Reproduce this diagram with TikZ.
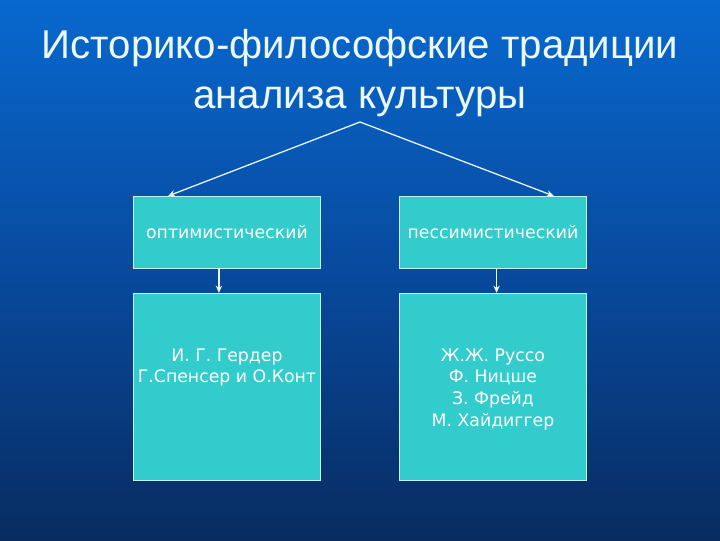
\documentclass[tikz,border=0pt]{standalone}
\usepackage{fontspec}
\setmainfont{Liberation Sans}
\newfontfamily\boxfont{DejaVu Sans}
\usepackage{xcolor}
\usetikzlibrary{arrows.meta, positioning}

\definecolor{slidetop}{RGB}{8,104,206}
\definecolor{slidemid}{RGB}{8,74,158}
\definecolor{slidebot}{RGB}{8,44,96}
\definecolor{panel}{RGB}{51,204,204}
\definecolor{panelline}{RGB}{200,240,245}

\begin{document}
\begin{tikzpicture}[
    x=0.025cm, y=-0.025cm,
    panelbox/.style={draw=panelline, line width=0.6pt, fill=panel,
        minimum width=4.675cm, inner sep=0pt, anchor=north west},
    flow/.style={-{Stealth[length=1.8mm, width=1.6mm]}, line width=0.9pt, draw=white!92!cyan},
    label/.style={text=white, font=\boxfont\fontsize{12.3}{15.4}\selectfont, align=center}
]
% slide background
\shade[top color=slidetop, bottom color=slidebot, middle color=slidemid]
    (0,0) rectangle (720,540);
\useasboundingbox (0,0) rectangle (720,540);

\node[text=white!92!cyan, font=\fontsize{28.6}{35.5}\selectfont, align=center] (title)
    at (360,73) {Историко-философские традиции\\анализа культуры};
\coordinate (apex) at (360,122);

% upper row
\node[panelbox, minimum height=1.8cm] (optimist) at (133,196) {};
\node[panelbox, minimum height=1.8cm] (pessimist) at (399,196) {};
\node[label] (optlabel) at (optimist.center) {оптимистический};
\node[label] (peslabel) at (pessimist.center) {пессимистический};

% lower row
\node[panelbox, minimum height=4.675cm, below=0.6cm of optimist.south west, anchor=north west] (optnames) {};
\node[panelbox, minimum height=4.675cm, below=0.6cm of pessimist.south west, anchor=north west] (pesnames) {};
\node[label, anchor=north] (optlist) at ([yshift=-1.27cm]optnames.north)
    {И. Г. Гердер\\Г.Спенсер и О.Конт};
\node[label, anchor=north] (peslist) at ([yshift=-1.27cm]pesnames.north)
    {Ж.Ж. Руссо\\Ф. Ницше\\З. Фрейд\\М. Хайдиггер};

\draw[flow] (apex) -- ([xshift=0.875cm]optimist.north west);
\draw[flow] (apex) -- ([xshift=-0.825cm]pessimist.north east);
\draw[flow] ([xshift=-0.2cm]optimist.south) -- ([xshift=-0.2cm]optnames.north);
\draw[flow] ([xshift=0.09cm]pessimist.south) -- ([xshift=0.09cm]pesnames.north);
\end{tikzpicture}
\end{document}
